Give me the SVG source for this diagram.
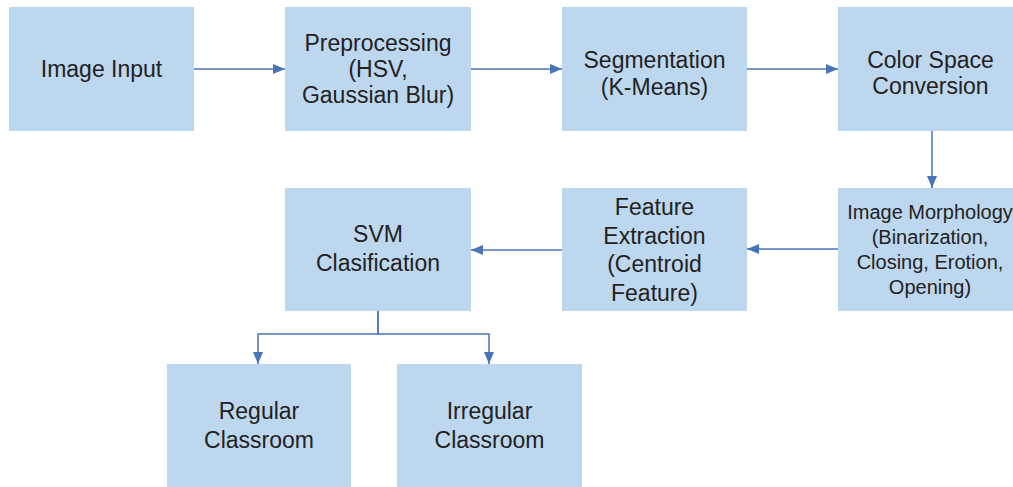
<svg xmlns="http://www.w3.org/2000/svg" width="1013" height="487" viewBox="0 0 1013 487">
<style>
.box{fill:#BDD7EE;}
.t{font-family:"Liberation Sans",Arial,sans-serif;font-size:23px;fill:#222;text-anchor:middle;}
.s{font-size:20px;}
.c{fill:none;stroke:#4A74B8;stroke-width:1.5;}
</style>
<defs>
<marker id="ah" markerUnits="userSpaceOnUse" markerWidth="12" markerHeight="10" refX="12" refY="5" orient="auto">
<path d="M0,0 L12,5 L0,10 z" fill="#4A74B8"/>
</marker>
</defs>
<rect width="1013" height="487" fill="#fff"/>
<g id="connectors">
<path class="c" d="M194,69 H285" marker-end="url(#ah)"/>
<path class="c" d="M471,69 H562" marker-end="url(#ah)"/>
<path class="c" d="M747,69 H838" marker-end="url(#ah)"/>
<path class="c" d="M932,131 V188" marker-end="url(#ah)"/>
<path class="c" d="M838,249 H747" marker-end="url(#ah)"/>
<path class="c" d="M562,250 H471" marker-end="url(#ah)"/>
<path class="c" d="M378,311 V334 H258 V364" marker-end="url(#ah)"/>
<path class="c" d="M378,311 V334 H489 V364" marker-end="url(#ah)"/>
</g>
<g id="image-input">
<rect class="box" x="9" y="7" width="185" height="124"/>
<text class="t" x="101.5" y="77">Image Input</text>
</g>
<g id="preprocessing">
<rect class="box" x="285" y="7" width="186" height="124"/>
<text class="t" x="378" y="51">Preprocessing</text>
<text class="t" x="378" y="77">(HSV,</text>
<text class="t" x="378" y="103">Gaussian Blur)</text>
</g>
<g id="segmentation">
<rect class="box" x="562" y="7" width="185" height="124"/>
<text class="t" x="654.5" y="68">Segmentation</text>
<text class="t" x="654.5" y="95">(K-Means)</text>
</g>
<g id="color-space">
<rect class="box" x="838" y="7" width="185" height="124"/>
<text class="t" x="930.5" y="68">Color Space</text>
<text class="t" x="930.5" y="94">Conversion</text>
</g>
<g id="image-morphology">
<rect class="box" x="838" y="188" width="185" height="123"/>
<text class="t s" x="930" y="219">Image Morphology</text>
<text class="t s" x="930" y="244">(Binarization,</text>
<text class="t s" x="930" y="269">Closing, Erotion,</text>
<text class="t s" x="930" y="294">Opening)</text>
</g>
<g id="feature-extraction">
<rect class="box" x="562" y="188" width="185" height="123"/>
<text class="t" x="654.5" y="215">Feature</text>
<text class="t" x="654.5" y="243.5">Extraction</text>
<text class="t" x="654.5" y="272">(Centroid</text>
<text class="t" x="654.5" y="300.5">Feature)</text>
</g>
<g id="svm">
<rect class="box" x="285" y="188" width="186" height="123"/>
<text class="t" x="378" y="242">SVM</text>
<text class="t" x="378" y="271">Clasification</text>
</g>
<g id="regular">
<rect class="box" x="167" y="364" width="184" height="123"/>
<text class="t" x="259" y="419">Regular</text>
<text class="t" x="259" y="448">Classroom</text>
</g>
<g id="irregular">
<rect class="box" x="397" y="364" width="185" height="123"/>
<text class="t" x="489.5" y="419">Irregular</text>
<text class="t" x="489.5" y="448">Classroom</text>
</g>
</svg>
